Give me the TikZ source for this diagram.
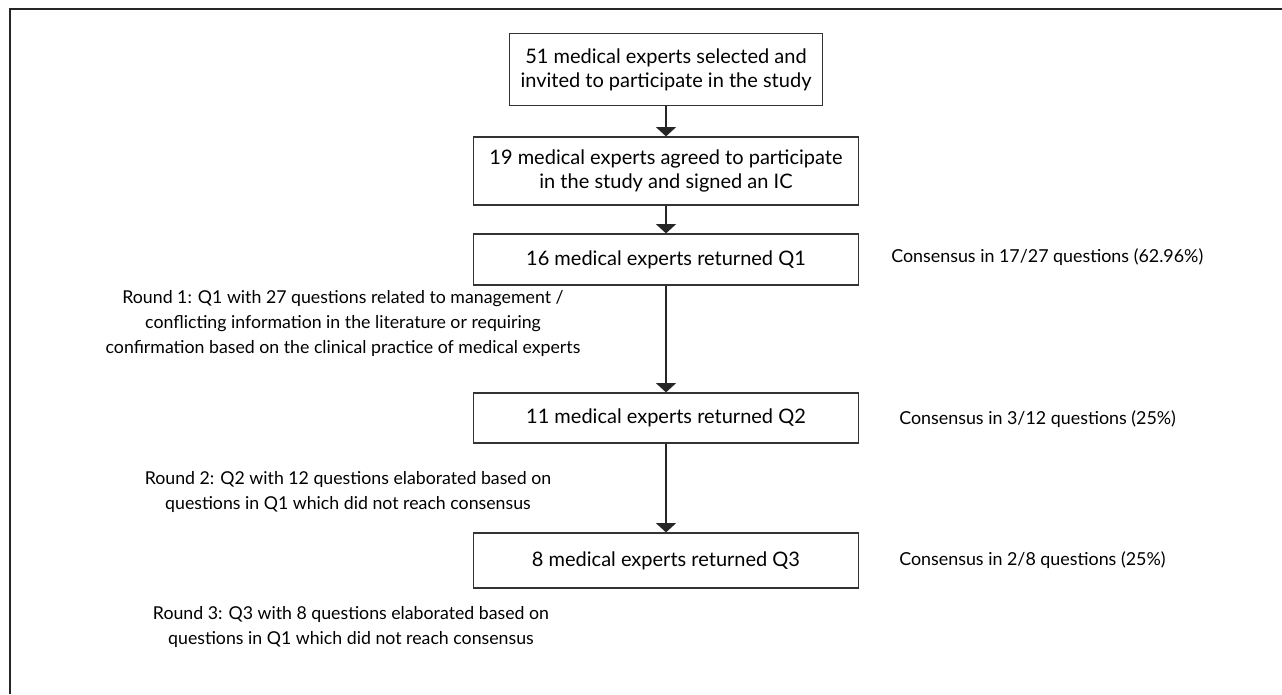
\documentclass[tikz,border=0pt]{standalone}
\usepackage{fontspec}
\setmainfont{Lato}
\usetikzlibrary{arrows.meta}

\begin{document}
\begin{tikzpicture}[x=0.75pt,y=-0.75pt,
    stepbox/.style={draw=black!80,line width=0.9pt,inner sep=0pt,align=center,
      minimum width=288.75pt,font=\fontsize{15}{18}\selectfont},
    sidenote/.style={align=center,inner sep=0pt,font=\fontsize{13.3}{18.75}\selectfont},
    resultnote/.style={anchor=west,inner sep=0pt,font=\fontsize{13.4}{15}\selectfont},
    flowarrow/.style={draw=black!85,line width=1.1pt,-{Triangle[width=15pt,length=7pt]}}]
    \useasboundingbox (0,0) rectangle (1282,694);
    % outer frame, only top and left edges show
    \draw[black!85,line width=1.5pt] (10,694) -- (10,9) -- (1282,9);
    % flow boxes
    \node[stepbox,minimum width=234.75pt,minimum height=54pt] (invited) at (666,69.5)
        {51 medical experts selected and\\invited to participate in the study};
    \node[stepbox,minimum height=51pt] (agreed) at (666,171)
        {19 medical experts agreed to participate\\in the study and signed an IC};
    \node[stepbox,minimum height=38.25pt] (qone) at (666,259.5) {16 medical experts returned Q1};
    \node[stepbox,minimum height=37.5pt] (qtwo) at (666,418) {11 medical experts returned Q2};
    \node[stepbox,minimum height=41.25pt] (qthree) at (666,560.5) {8 medical experts returned Q3};
    \draw[flowarrow] (invited) -- (agreed);
    \draw[flowarrow] (agreed) -- (qone);
    \draw[flowarrow] (qone) -- (qtwo);
    \draw[flowarrow] (qtwo) -- (qthree);
    % consensus per round
    \node[resultnote] (consone) at (891,257) {Consensus in 17/27 questions (62.96\%)};
    \node[resultnote] (constwo) at (899,419) {Consensus in 3/12 questions (25\%)};
    \node[resultnote] (consthree) at (899,560) {Consensus in 2/8 questions (25\%)};
    % round descriptions
    \node[sidenote] (roundone) at (343,323)
        {Round 1: Q1 with 27 questions related to management /\\conflicting information in the literature or requiring\\confirmation based on the clinical practice of medical experts};
    \node[sidenote] (roundtwo) at (348,492)
        {Round 2: Q2 with 12 questions elaborated based on\\questions in Q1 which did not reach consensus};
    \node[sidenote] (roundthree) at (351,627)
        {Round 3: Q3 with 8 questions elaborated based on\\questions in Q1 which did not reach consensus};
\end{tikzpicture}
\end{document}
